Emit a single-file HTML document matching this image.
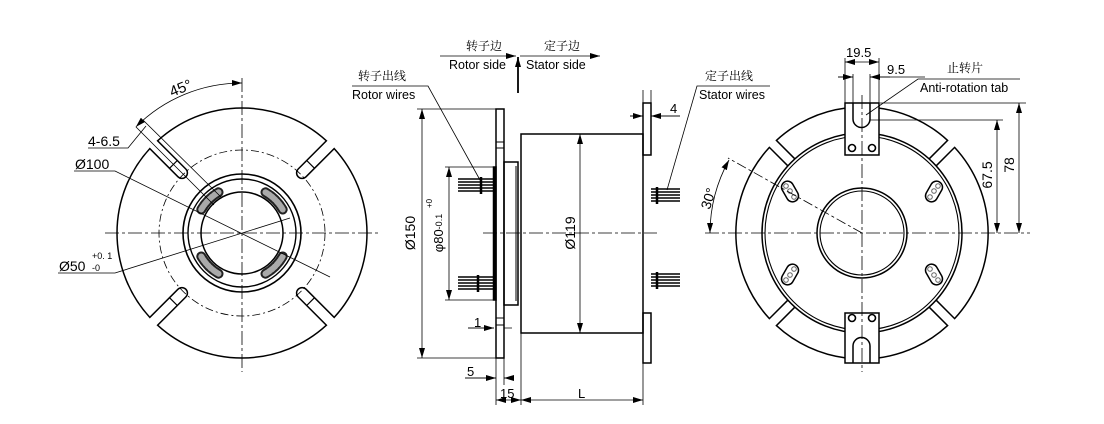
<!DOCTYPE html>
<html><head><meta charset="utf-8"><style>
html,body{margin:0;padding:0;background:#fff;}
svg{display:block;}
text{font-family:"Liberation Sans","Noto Sans CJK SC",sans-serif;fill:#000;}
.cn{font-family:"Noto Serif CJK SC","Noto Sans CJK SC",serif;font-size:12px;}
</style></head><body>
<svg width="1104" height="424" viewBox="0 0 1104 424" xmlns="http://www.w3.org/2000/svg">
<defs>
<marker id="ar" viewBox="0 0 10 6" refX="10" refY="3" markerWidth="10" markerHeight="6" orient="auto-start-reverse" markerUnits="userSpaceOnUse"><path d="M0,0 L10,3 L0,6 z" fill="#000"/></marker>
</defs>
<g fill="none" stroke="#000" stroke-width="1">
<!-- ===== LEFT VIEW ===== -->
<path stroke-width="1.5" d="M157.6,140.8 A125 125 0 0 1 326.4,140.8 L298.2,169 A5.5 5.5 0 0 0 306,176.8 L334.2,148.6 A125 125 0 0 1 334.2,317.4 L306,289.2 A5.5 5.5 0 0 0 298.2,297 L326.4,325.2 A125 125 0 0 1 157.6,325.2 L185.8,297 A5.5 5.5 0 0 0 178,289.2 L149.8,317.4 A125 125 0 0 1 149.8,148.6 L178,176.8 A5.5 5.5 0 0 0 185.8,169 Z"/>
<path stroke-width="1.2" d="M314.5,168.3 L306.7,160.5 M169.5,168.3 L177.3,160.5 M314.5,297.7 L306.7,305.5 M169.5,297.7 L177.3,305.5"/>
<circle cx="242" cy="233" r="83" stroke-dasharray="8,3,2,3" stroke-width="0.8"/>
<circle cx="242" cy="233" r="59" stroke-width="1.6"/>
<circle cx="242" cy="233" r="54" stroke-width="1.4"/>
<circle cx="242" cy="233" r="41" stroke-width="1.5"/>
<g stroke-linecap="round">
<path stroke="#222" stroke-width="10" d="M218.5,192.3 A47 47 0 0 0 201.3,209.5 M265.5,192.3 A47 47 0 0 1 282.7,209.5 M201.3,256.5 A47 47 0 0 0 218.5,273.7 M265.5,273.7 A47 47 0 0 0 282.7,256.5"/>
<path stroke="#aaa" stroke-width="6" stroke-dasharray="2,1.5" d="M218.5,192.3 A47 47 0 0 0 201.3,209.5 M265.5,192.3 A47 47 0 0 1 282.7,209.5 M201.3,256.5 A47 47 0 0 0 218.5,273.7 M265.5,273.7 A47 47 0 0 0 282.7,256.5"/>
</g>
<path stroke-width="0.8" stroke-dasharray="14,3,3,3" d="M105,233 H380 M242,78 V372"/>
<path stroke-width="0.8" d="M135.9,126.9 L214,205 M143,120 L222,198"/>
<path stroke-width="0.8" marker-start="url(#ar)" marker-end="url(#ar)" d="M135.9,126.9 A150 150 0 0 1 242,83"/>
<path stroke-width="0.8" d="M88,148 H128 L146,126"/>
<path stroke-width="0.8" d="M74,171 H115 L330,277"/>
<path stroke-width="0.8" d="M58,273 H115 L290,218"/>
</g>
<text x="172" y="97" font-size="15" transform="rotate(-22 172 97)">45°</text>
<text x="88" y="146" font-size="14">4-6.5</text>
<text x="75" y="169" font-size="14">Ø100</text>
<text x="59" y="271" font-size="14">Ø50</text>
<text x="92" y="259" font-size="9">+0. 1</text>
<text x="92" y="271" font-size="9">-0</text>

<!-- ===== MIDDLE VIEW ===== -->
<g fill="none" stroke="#000" stroke-width="1.5">
<rect x="496" y="109" width="8" height="249"/>
<path stroke-width="1" d="M496,142 H504 M496,148 H504 M496,318 H504 M496,325 H504"/>
<rect x="493.5" y="167" width="2.5" height="133" fill="#000"/>
<rect x="504" y="162" width="14" height="143"/>
<path stroke-width="1" d="M516,166 V301"/>
<rect x="521" y="134" width="122" height="199"/>
<rect x="643" y="103" width="8" height="52"/>
<rect x="643" y="313" width="8" height="50"/>
</g>
<g stroke="#000" stroke-width="1.4">
<path d="M458,179 H494 M458,182 H494 M458,185 H494 M458,188 H494 M458,191 H494"/>
<path d="M458,277 H494 M458,280 H494 M458,283 H494 M458,286 H494 M458,289 H494"/>
<path stroke-width="2.5" d="M481,177 V194 M478,275 V292"/>
<path d="M651,189 H680 M651,192 H680 M651,195 H680 M651,198 H680 M651,201 H680"/>
<path d="M651,274 H680 M651,277 H680 M651,280 H680 M651,283 H680 M651,286 H680"/>
<path stroke-width="2.5" d="M657,187 V204 M657,272 V289"/>
</g>
<g fill="none" stroke="#000" stroke-width="0.8">
<path stroke-dasharray="14,3,3,3" d="M483,233 H657"/>
<path d="M417,109 H496 M417,358 H496 M445,167 H494 M445,300 H494"/>
<path marker-start="url(#ar)" marker-end="url(#ar)" d="M422,109 V358"/>
<path marker-start="url(#ar)" marker-end="url(#ar)" d="M449,167 V300"/>
<path marker-start="url(#ar)" marker-end="url(#ar)" d="M580,134 V333"/>
<path d="M496,358 V405 M504,358 V385 M521,333 V405 M643,363 V405 M643,103 V90 M651,103 V90"/>
<path d="M468,328 H494 M504,328 H512"/>
<path marker-end="url(#ar)" d="M468,328 H494"/>
<path d="M465,378 H496 M504,378 H514"/>
<path marker-end="url(#ar)" d="M465,378 H496"/>
<path marker-start="url(#ar)" d="M504,378 H514"/>
<path marker-start="url(#ar)" marker-end="url(#ar)" d="M496,400 H521"/>
<path marker-start="url(#ar)" marker-end="url(#ar)" d="M521,400 H643"/>
<path d="M630,116 H643 M651,116 H680"/>
<path marker-end="url(#ar)" d="M630,116 H643"/>
<path marker-end="url(#ar)" d="M680,116 H651"/>
<path d="M352,86 H428 L480,180"/>
<path d="M770,86 H697 L667,190"/>
<path marker-end="url(#ar)" d="M440,56 H516"/>
<path marker-end="url(#ar)" d="M520,56 H600"/>
</g>
<path d="M518,93 V57" stroke="#000" stroke-width="1.8" marker-end="url(#ar)"/>
<text x="415" y="233" font-size="14" transform="rotate(-90 415 233)" text-anchor="middle">Ø150</text>
<text x="443" y="233" font-size="13" transform="rotate(-90 443 233)" text-anchor="middle">φ80<tspan font-size="9" dy="-1">-0.1</tspan></text>
<text x="432" y="208" font-size="8" transform="rotate(-90 432 208)">+0</text>
<text x="575" y="233" font-size="14" transform="rotate(-90 575 233)" text-anchor="middle">Ø119</text>
<text x="474" y="327" font-size="13">1</text>
<text x="467" y="376" font-size="13">5</text>
<text x="500" y="398" font-size="13">15</text>
<text x="578" y="398" font-size="13">L</text>
<text x="670" y="113" font-size="13">4</text>
<text x="466" y="50" class="cn">转子边</text>
<text x="544" y="50" class="cn">定子边</text>
<text x="449" y="69" font-size="12.5">Rotor side</text>
<text x="526" y="69" font-size="12.5">Stator side</text>
<text x="358" y="80" class="cn">转子出线</text>
<text x="352" y="99" font-size="12.5">Rotor wires</text>
<text x="705" y="80" class="cn">定子出线</text>
<text x="699" y="99" font-size="12.5">Stator wires</text>

<!-- ===== RIGHT VIEW ===== -->
<g fill="none" stroke="#000" stroke-width="1.5">
<path d="M878,108 A126 126 0 0 1 947.6,140.4 L929.2,158.8"/>
<path d="M936.2,165.8 L954.6,147.4 A126 126 0 0 1 954.6,318.6 L936.2,300.2"/>
<path d="M929.2,307.2 L947.6,325.6 A126 126 0 0 1 878,358"/>
<path d="M846,358 A126 126 0 0 1 776.4,325.6 L794.8,307.2"/>
<path d="M787.8,300.2 L769.4,318.6 A126 126 0 0 1 769.4,147.4 L787.8,165.8"/>
<path d="M794.8,158.8 L776.4,140.4 A126 126 0 0 1 846,108"/>
<circle cx="862" cy="233" r="100"/>
<circle cx="862" cy="233" r="97" stroke-width="1.1"/>
<circle cx="862" cy="233" r="45"/>
<circle cx="862" cy="233" r="42" stroke-width="1.1"/>
<rect x="845" y="103" width="34" height="52" fill="#fff"/>
<path d="M853,103 V119 A8.5 8.5 0 0 0 870,119 V103"/>
<rect x="845" y="313" width="34" height="50" fill="#fff"/>
<path d="M853,363 V346 A8.5 8.5 0 0 1 870,346 V363"/>
</g>
<g fill="#fff" stroke="#000" stroke-width="1.6">
<circle cx="852" cy="148" r="3.5"/><circle cx="872" cy="148" r="3.5"/>
<circle cx="852" cy="318" r="3.5"/><circle cx="872" cy="318" r="3.5"/>
</g>
<g fill="#fff" stroke="#000" stroke-width="1.5">
<rect x="-11" y="-6" width="22" height="12" rx="6" transform="translate(790,191.5) rotate(60)"/>
<rect x="-11" y="-6" width="22" height="12" rx="6" transform="translate(934,191.5) rotate(-60)"/>
<rect x="-11" y="-6" width="22" height="12" rx="6" transform="translate(790,274.5) rotate(-60)"/>
<rect x="-11" y="-6" width="22" height="12" rx="6" transform="translate(934,274.5) rotate(60)"/>
</g>
<g fill="none" stroke="#666" stroke-width="1">
<circle cx="786" cy="186" r="2.3"/><circle cx="790" cy="191" r="2.3"/><circle cx="794" cy="197" r="2.3"/>
<circle cx="938" cy="186" r="2.3"/><circle cx="934" cy="191" r="2.3"/><circle cx="930" cy="197" r="2.3"/>
<circle cx="786" cy="280" r="2.3"/><circle cx="790" cy="275" r="2.3"/><circle cx="794" cy="269" r="2.3"/>
<circle cx="938" cy="280" r="2.3"/><circle cx="934" cy="275" r="2.3"/><circle cx="930" cy="269" r="2.3"/>
</g>
<g fill="none" stroke="#000" stroke-width="0.8">
<path stroke-dasharray="14,3,3,3" d="M705,233 H1030 M862,95 V372"/>
<path stroke-dasharray="10,3,3,3" d="M862,233 L728,158"/>
<path marker-start="url(#ar)" marker-end="url(#ar)" d="M710,233 A152 152 0 0 1 729,160"/>
<path d="M845,103 V58 M879,103 V58"/>
<path marker-start="url(#ar)" marker-end="url(#ar)" d="M845,62 H879"/>
<path d="M853,103 V74 M870,103 V74"/>
<path d="M838,77 H853 M870,77 H925"/>
<path marker-end="url(#ar)" d="M838,77 H853"/>
<path marker-end="url(#ar)" d="M890,77 H870"/>
<path d="M1020,79 H918 L866,115"/>
<path d="M880,103 H1026 M870,120 H1003"/>
<path marker-start="url(#ar)" marker-end="url(#ar)" d="M997,120 V233"/>
<path marker-start="url(#ar)" marker-end="url(#ar)" d="M1019,103 V233"/>
</g>
<text x="846" y="57" font-size="13">19.5</text>
<text x="887" y="74" font-size="13">9.5</text>
<text x="947" y="72" class="cn">止转片</text>
<text x="920" y="92" font-size="12.5">Anti-rotation tab</text>
<text x="992" y="175" font-size="14" transform="rotate(-90 992 175)" text-anchor="middle">67.5</text>
<text x="1014" y="165" font-size="14" transform="rotate(-90 1014 165)" text-anchor="middle">78</text>
<text x="713" y="200" font-size="14" transform="rotate(-72 713 200)" text-anchor="middle">30°</text>
</svg>
</body></html>
